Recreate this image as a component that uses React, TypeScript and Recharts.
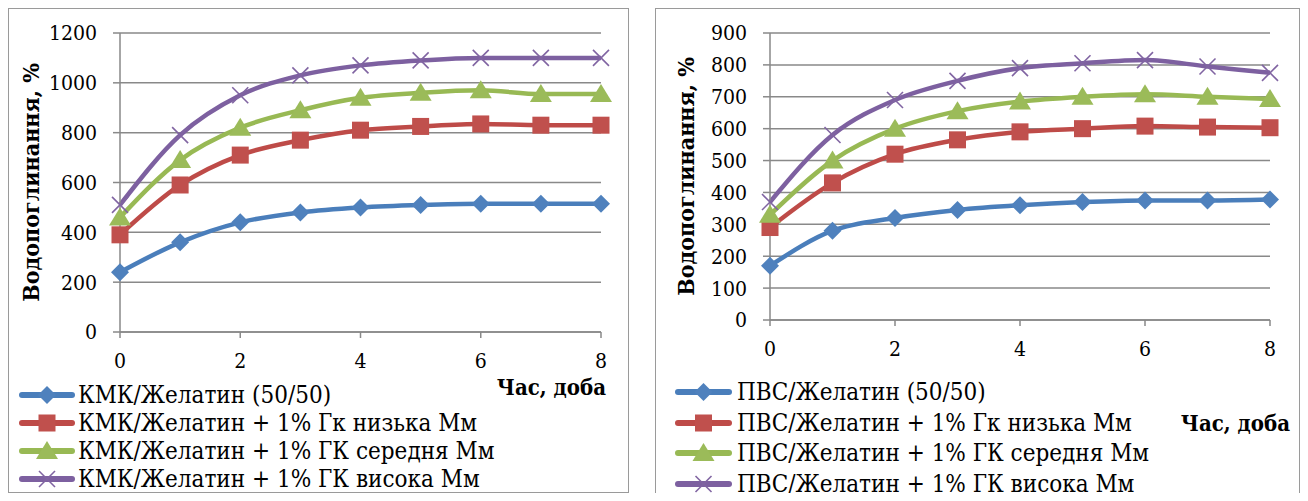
import React from 'react';
import { LineChart, Line, XAxis, YAxis, CartesianGrid, Legend } from 'recharts';

const days = [0, 1, 2, 3, 4, 5, 6, 7, 8];
const xTicks = [0, 2, 4, 6, 8];

// КМК panel
const kmkNames = [
  'КМК/Желатин (50/50)',
  'КМК/Желатин + 1% Гк низька Мм',
  'КМК/Желатин + 1% ГК середня Мм',
  'КМК/Желатин + 1% ГК висока Мм',
];
const kmkBase = [240, 360, 440, 480, 500, 510, 515, 515, 515];
const kmkLow = [390, 590, 710, 770, 810, 825, 835, 830, 830];
const kmkMid = [460, 690, 820, 890, 940, 960, 970, 955, 955];
const kmkHigh = [510, 790, 950, 1030, 1070, 1090, 1100, 1100, 1100];
const kmkTicks = [0, 200, 400, 600, 800, 1000, 1200];

// ПВС panel
const pvsNames = [
  'ПВС/Желатин (50/50)',
  'ПВС/Желатин + 1% Гк низька Мм',
  'ПВС/Желатин + 1% ГК середня Мм',
  'ПВС/Желатин + 1% ГК висока Мм',
];
const pvsBase = [170, 280, 320, 345, 360, 370, 375, 375, 378];
const pvsLow = [290, 430, 520, 565, 590, 600, 608, 605, 603];
const pvsMid = [330, 500, 600, 655, 685, 700, 708, 700, 693];
const pvsHigh = [370, 580, 690, 750, 790, 805, 815, 795, 775];
const pvsTicks = [0, 100, 200, 300, 400, 500, 600, 700, 800, 900];

const yTitle = 'Водопоглинання, %';
const xTitle = 'Час, доба';

const FONT = "'DejaVu Serif Condensed', 'DejaVu Serif', serif";
const GRID = '#898989';
const colors = ['#4A7EBB', '#BE4B48', '#98B954', '#7D60A0'];
const fills = ['#4F81BD', '#C0504D', '#9BBB59', '#8064A2'];
const kinds = ['diamond', 'square', 'triangle', 'cross'];

const marker = (kind: string, i: number, cx: number, cy: number, key?: string) => {
  if (kind === 'diamond') {
    return <polygon key={key} points={`${cx},${cy - 9} ${cx + 9},${cy} ${cx},${cy + 9} ${cx - 9},${cy}`} fill={fills[i]} />;
  }
  if (kind === 'square') {
    return <rect key={key} x={cx - 8.5} y={cy - 8.5} width={17} height={17} fill={fills[i]} />;
  }
  if (kind === 'triangle') {
    return <polygon key={key} points={`${cx},${cy - 10} ${cx + 11},${cy + 8} ${cx - 11},${cy + 8}`} fill={fills[i]} />;
  }
  return (
    <g key={key} stroke={fills[i]} strokeWidth={1.6}>
      <line x1={cx - 8} y1={cy - 8} x2={cx + 8} y2={cy + 8} />
      <line x1={cx - 8} y1={cy + 8} x2={cx + 8} y2={cy - 8} />
    </g>
  );
};

type PanelProps = {
  left: number;
  width: number;
  height: number;
  names: string[];
  series: number[][];
  yMax: number;
  yTicks: number[];
  plot: { top: number; left: number; right: number; bottom: number };
  yTitleX: number;
  xTitlePos: { dx: number; dy: number };
  legend: { top: number; lineStart: number; lineEnd: number; textX: number; rowH: number };
};

const Panel = ({ left, width, height, names, series, yMax, yTicks, plot, yTitleX, xTitlePos, legend }: PanelProps) => {
  const data = days.map((d, k) => ({ day: d, s0: series[0][k], s1: series[1][k], s2: series[2][k], s3: series[3][k] }));
  const axisH = 40;

  const renderLegend = () => (
    <div style={{ fontFamily: FONT, fontSize: 24, color: '#000' }}>
      {names.map((n, i) => (
        <div key={n} style={{ height: legend.rowH, display: 'flex', alignItems: 'center', whiteSpace: 'nowrap' }}>
          <svg width={legend.lineEnd - legend.lineStart} height={24} style={{ marginLeft: legend.lineStart, flex: 'none' }}>
            <line x1={3} y1={12} x2={legend.lineEnd - legend.lineStart - 3} y2={12} stroke={colors[i]} strokeWidth={6} strokeLinecap="round" />
            {marker(kinds[i], i, (legend.lineEnd - legend.lineStart) / 2, 12)}
          </svg>
          <span style={{ marginLeft: legend.textX - legend.lineEnd }}>{n}</span>
        </div>
      ))}
    </div>
  );

  return (
    <div style={{ position: 'absolute', left, top: 0, width, height, outline: '1.5px solid #9a9a9a', outlineOffset: -1.5, background: '#fff' }}>
      <LineChart
        width={width}
        height={height}
        data={data}
        margin={{ top: plot.top, right: plot.right, left: 0, bottom: height - plot.bottom - axisH }}
      >
        <CartesianGrid vertical={false} stroke={GRID} strokeWidth={1.5} />
        <XAxis
          dataKey="day"
          type="number"
          domain={[0, 8]}
          ticks={xTicks}
          height={axisH}
          interval={0}
          axisLine={{ stroke: GRID, strokeWidth: 1.5 }}
          tickLine={{ stroke: GRID, strokeWidth: 1.5 }}
          tickSize={6}
          tickMargin={15}
          tick={{ fill: '#000', fontSize: 21, fontFamily: FONT }}
          label={{
            content: (p: any) => {
              const vb = p.viewBox;
              return (
                <text
                  x={vb.x + vb.width + xTitlePos.dx}
                  y={vb.y + xTitlePos.dy}
                  textAnchor="end"
                  dominantBaseline="central"
                  fontFamily={FONT}
                  fontSize={22}
                  fontWeight="bold"
                  fill="#000"
                >
                  {xTitle}
                </text>
              );
            },
          }}
        />
        <YAxis
          type="number"
          domain={[0, yMax]}
          ticks={yTicks}
          interval={0}
          width={plot.left}
          axisLine={{ stroke: GRID, strokeWidth: 1.5 }}
          tickLine={{ stroke: GRID, strokeWidth: 1.5 }}
          tickSize={7}
          tickMargin={16}
          tick={{ fill: '#000', fontSize: 21, fontFamily: FONT }}
          label={{
            content: (p: any) => {
              const vb = p.viewBox;
              const cx = vb.x + yTitleX;
              const cy = vb.y + vb.height / 2;
              return (
                <text
                  x={cx}
                  y={cy}
                  transform={`rotate(-90, ${cx}, ${cy})`}
                  textAnchor="middle"
                  dominantBaseline="central"
                  fontFamily={FONT}
                  fontSize={23}
                  fontWeight="bold"
                  fill="#000"
                >
                  {yTitle}
                </text>
              );
            },
          }}
        />
        <Legend
          layout="vertical"
          align="center"
          verticalAlign="middle"
          wrapperStyle={{ top: legend.top, left: 0, width: 'auto' }}
          content={renderLegend}
        />
        {kinds.map((k, i) => (
          <Line
            key={k}
            type="monotone"
            dataKey={`s${i}`}
            name={names[i]}
            stroke={colors[i]}
            strokeWidth={4.5}
            isAnimationActive={false}
            activeDot={false}
            dot={(p: any) => marker(k, i, p.cx, p.cy, `d-${i}-${p.index}`)}
          />
        ))}
      </LineChart>
    </div>
  );
};

export default function App() {
  return (
    <div style={{ position: 'relative', width: 1292, height: 485 }}>
      <style>{'body{overflow:hidden}'}</style>
      <Panel
        left={0}
        width={621}
        height={485}
        names={kmkNames}
        series={[kmkBase, kmkLow, kmkMid, kmkHigh]}
        yMax={1200}
        yTicks={kmkTicks}
        plot={{ top: 25, left: 112, right: 28, bottom: 324 }}
        yTitleX={22}
        xTitlePos={{ dx: 5, dy: 55 }}
        legend={{ top: 373, lineStart: 11, lineEnd: 67, textX: 70, rowH: 28 }}
      />
      <Panel
        left={647}
        width={645}
        height={500}
        names={pvsNames}
        series={[pvsBase, pvsLow, pvsMid, pvsHigh]}
        yMax={900}
        yTicks={pvsTicks}
        plot={{ top: 25, left: 115, right: 30, bottom: 312 }}
        yTitleX={30}
        xTitlePos={{ dx: 20, dy: 103 }}
        legend={{ top: 369, lineStart: 20, lineEnd: 77, textX: 82, rowH: 30.5 }}
      />
    </div>
  );
}
